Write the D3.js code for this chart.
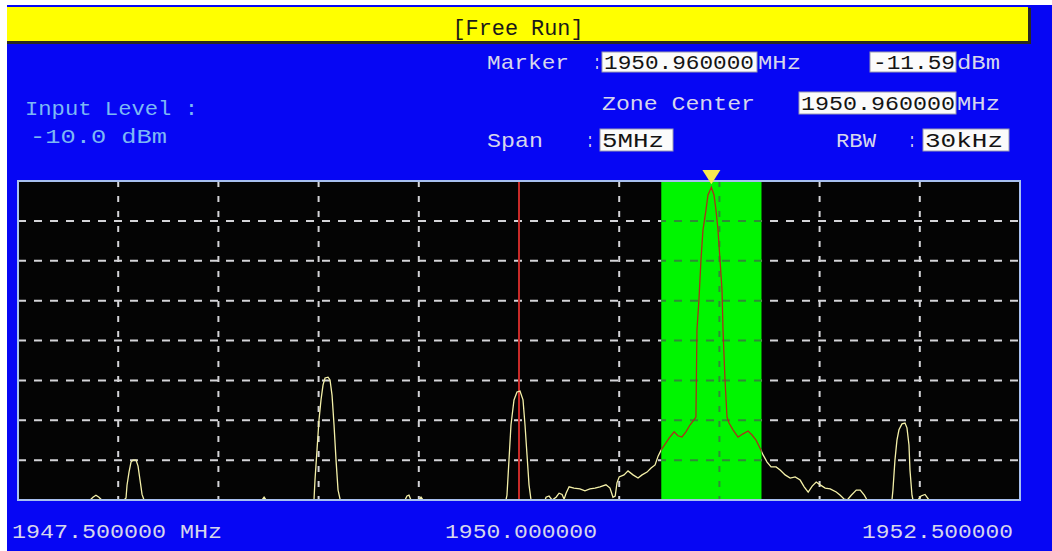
<!DOCTYPE html>
<html>
<head>
<meta charset="utf-8">
<script src="https://cdn.jsdelivr.net/npm/d3@7"></script>
<style>
  html, body { margin: 0; padding: 0; background: #ffffff; }
  svg { display: block; }
  text { font-family: "Liberation Mono", "DejaVu Sans Mono", monospace; }
</style>
</head>
<body>
<svg id="chart" width="1052" height="551"></svg>
<script>
// Analyzer settings
const startFreq = 1947.5;      // MHz
const stopFreq = 1952.5;       // MHz
const centerFreq = 1950.0;     // MHz
const refLevel = -10;          // dBm (top of screen)
const bottomLevel = -90;       // dBm (bottom of screen)
const markerFreq = 1950.96;    // MHz
const markerLevel = -11.59;    // dBm
const zoneCenter = 1950.96;    // MHz
const zoneWidth = 0.5;         // MHz
const freqGrid = [1948.0, 1948.5, 1949.0, 1949.5, 1950.0, 1950.5, 1951.0, 1951.5, 1952.0];
const levelGrid = [-20, -30, -40, -50, -60, -70, -80];
const freqTickLabels = ["1947.500000 MHz", "1950.000000", "1952.500000"];

// Trace: frequency (MHz) and level (dBm); levels below -90 dBm sit on the bottom edge
const traceFreq = [
  1947.500, 1947.860, 1947.874, 1947.889, 1947.904, 1947.918,
  1948.029, 1948.039, 1948.044, 1948.054, 1948.064, 1948.074, 1948.089, 1948.099, 1948.109, 1948.119, 1948.129,
  1948.718, 1948.728, 1948.738,
  1948.972, 1948.977, 1948.982, 1948.992, 1949.002, 1949.012, 1949.022, 1949.032, 1949.047, 1949.057, 1949.067, 1949.077, 1949.087, 1949.097, 1949.108,
  1949.431, 1949.441, 1949.451, 1949.461, 1949.501, 1949.511, 1949.521,
  1949.935, 1949.940, 1949.950, 1949.960, 1949.975, 1949.990, 1950.005, 1950.020, 1950.030, 1950.040, 1950.050, 1950.060,
  1950.130, 1950.135, 1950.150, 1950.165, 1950.185, 1950.200, 1950.215, 1950.225, 1950.235, 1950.250, 1950.274, 1950.304,
  1950.329, 1950.354, 1950.379, 1950.404, 1950.434, 1950.454, 1950.469, 1950.480, 1950.489, 1950.500, 1950.524, 1950.544,
  1950.569, 1950.594, 1950.614, 1950.639, 1950.659, 1950.679, 1950.694, 1950.709, 1950.729, 1950.749, 1950.774, 1950.793,
  1950.813, 1950.833, 1950.853, 1950.873, 1950.883, 1950.888, 1950.898, 1950.908, 1950.918, 1950.933, 1950.943, 1950.960,
  1950.973, 1950.983, 1950.993, 1951.003, 1951.013, 1951.018, 1951.028, 1951.038, 1951.048, 1951.068, 1951.093, 1951.118,
  1951.143, 1951.163, 1951.183, 1951.203, 1951.218, 1951.238, 1951.258, 1951.283, 1951.303, 1951.328, 1951.353, 1951.378,
  1951.403, 1951.423, 1951.443, 1951.463, 1951.483, 1951.503, 1951.528, 1951.553, 1951.583, 1951.603, 1951.623, 1951.638,
  1951.658, 1951.683, 1951.703, 1951.723, 1951.737,
  1951.861, 1951.866, 1951.876, 1951.886, 1951.896, 1951.911, 1951.926, 1951.936, 1951.946, 1951.951, 1951.961, 1951.966,
  1951.991, 1952.006, 1952.026, 1952.046, 1952.500
];
const traceLevel = [
  -93.0, -93.0, -89.3, -88.8, -89.3, -93.0,
  -93.0, -89.5, -86.3, -83.0, -80.5, -80.0, -80.0, -81.5, -85.0, -88.6, -93.0,
  -93.0, -89.3, -93.0,
  -93.0, -90.0, -85.0, -77.5, -69.9, -64.9, -61.2, -59.4, -59.2, -59.9, -63.7, -71.2, -80.0, -87.5, -93.0,
  -93.0, -89.0, -88.8, -93.0, -93.0, -89.3, -93.0,
  -93.0, -88.8, -80.0, -71.2, -64.9, -62.9, -62.7, -64.9, -71.2, -78.7, -86.2, -93.0,
  -93.0, -89.3, -89.0, -93.0, -89.3, -88.3, -88.6, -89.8, -88.3, -86.7, -87.0, -87.2,
  -87.7, -87.2, -87.0, -86.7, -86.2, -87.0, -89.3, -89.0, -85.7, -84.2, -83.7, -82.7,
  -83.7, -84.5, -83.7, -83.0, -82.0, -81.2, -79.0, -77.5, -76.0, -74.5, -72.9, -73.9,
  -74.2, -72.9, -71.2, -69.9, -69.2, -47.4, -39.8, -29.8, -22.3, -17.3, -13.5, -11.59,
  -13.5, -17.3, -22.3, -29.8, -37.3, -47.4, -59.9, -69.2, -70.7, -72.4, -74.2, -73.4,
  -72.7, -73.7, -75.0, -77.0, -78.7, -80.5, -81.7, -81.7, -82.5, -83.7, -84.5, -84.2,
  -85.0, -86.7, -88.0, -86.5, -85.5, -86.2, -87.0, -87.2, -88.0, -88.8, -89.8, -93.0,
  -88.8, -87.5, -87.5, -88.8, -93.0,
  -93.0, -87.5, -80.0, -75.0, -72.4, -70.9, -70.7, -71.9, -76.2, -82.5, -88.8, -93.0,
  -93.0, -89.0, -88.6, -93.0, -93.0
];

const svg = d3.select("#chart");
const plot = { left: 18, right: 1020, top: 181, bottom: 500 };

const x = d3.scaleLinear().domain([startFreq, stopFreq]).range([plot.left, plot.right]);
const y = d3.scaleLinear().domain([bottomLevel, refLevel]).range([plot.bottom, plot.top]).clamp(true);

// Screen background
svg.append("rect").attr("x", 7).attr("y", 5).attr("width", 1045).attr("height", 546).attr("fill", "#0606f4");

// Title bar with bevel
svg.append("rect").attr("x", 7).attr("y", 8).attr("width", 1024).attr("height", 36).attr("fill", "#2a2a20");
svg.append("rect").attr("x", 7).attr("y", 7).attr("width", 1021).attr("height", 34).attr("fill", "#ffff00");
svg.append("text").attr("x", 518).attr("y", 35).attr("text-anchor", "middle")
  .attr("font-size", 22).attr("fill", "#1a1a1a")
  .attr("textLength", 131).attr("lengthAdjust", "spacingAndGlyphs")
  .text("[Free Run]");

// Header text helpers
function label(txt, x0, base, width, color, size) {
  svg.append("text").attr("x", x0).attr("y", base)
    .attr("font-size", size || 21).attr("fill", color)
    .attr("textLength", width).attr("lengthAdjust", "spacingAndGlyphs")
    .text(txt);
}
function box(x0, y0, w, h) {
  svg.append("rect").attr("x", x0).attr("y", y0).attr("width", w).attr("height", h)
    .attr("fill", "#fbfbfb").attr("stroke", "#9a9ab0").attr("stroke-width", 1);
}
const hdr = "#d6d6ec";
const ink = "#141414";
const inputCol = "#7cb8f4";

label("Input Level :", 25, 115, 173, inputCol);
label("-10.0 dBm", 30, 143, 137, inputCol);

label("Marker", 487, 69, 82, hdr);
label(":", 593, 69, 8, hdr);
box(602, 52, 155, 20);
label("1950.960000", 604, 69, 150, ink);
label("MHz", 758, 69, 43, hdr);
box(870, 52, 86, 20);
label("-11.59", 873, 69, 82, ink);
label("dBm", 957, 69, 43, hdr);

label("Zone Center", 602, 110, 153, hdr);
box(799, 92, 157, 22);
label("1950.960000", 801, 110, 154, ink);
label("MHz", 957, 110, 43, hdr);

label("Span", 487, 147, 56, hdr);
label(":", 586, 147, 8, hdr);
box(600, 129, 73, 22);
label("5MHz", 602, 147, 62, ink);
label("RBW", 836, 147, 40, hdr);
label(":", 908, 147, 8, hdr);
box(923, 129, 86, 22);
label("30kHz", 925, 147, 78, ink);

// Plot area
svg.append("rect").attr("x", plot.left).attr("y", plot.top)
  .attr("width", plot.right - plot.left).attr("height", plot.bottom - plot.top)
  .attr("fill", "#040404");

// Measurement zone
const zoneX0 = x(zoneCenter - zoneWidth / 2);
const zoneX1 = x(zoneCenter + zoneWidth / 2);
svg.append("rect").attr("x", zoneX0).attr("y", plot.top)
  .attr("width", zoneX1 - zoneX0).attr("height", plot.bottom - plot.top)
  .attr("fill", "#00f500");

const defs = svg.append("defs");
defs.append("clipPath").attr("id", "clip-zone").append("rect")
  .attr("x", zoneX0).attr("y", plot.top - 2).attr("width", zoneX1 - zoneX0).attr("height", plot.bottom - plot.top + 4);
const outside = defs.append("clipPath").attr("id", "clip-out");
outside.append("rect").attr("x", 0).attr("y", 0).attr("width", zoneX0).attr("height", 551);
outside.append("rect").attr("x", zoneX1).attr("y", 0).attr("width", 1052 - zoneX1).attr("height", 551);

// Graticule: light outside the zone, dark green inside it
function graticule(g, color) {
  g.selectAll("line.v").data(freqGrid).join("line").attr("class", "v")
    .attr("x1", d => x(d)).attr("x2", d => x(d))
    .attr("y1", plot.top).attr("y2", plot.bottom)
    .attr("stroke", color).attr("stroke-width", 2).attr("stroke-dasharray", "6,9");
  g.selectAll("line.h").data(levelGrid).join("line").attr("class", "h")
    .attr("x1", plot.left).attr("x2", plot.right)
    .attr("y1", d => y(d)).attr("y2", d => y(d))
    .attr("stroke", color).attr("stroke-width", 2).attr("stroke-dasharray", "8,8");
}
graticule(svg.append("g").attr("clip-path", "url(#clip-out)"), "#d4d4d8");
graticule(svg.append("g").attr("clip-path", "url(#clip-zone)"), "#2f8c36");

// Center frequency line
svg.append("line").attr("x1", x(centerFreq)).attr("x2", x(centerFreq))
  .attr("y1", plot.top).attr("y2", plot.bottom)
  .attr("stroke", "#c82a28").attr("stroke-width", 2);

// Spectrum trace
const trace = traceFreq.map((f, i) => ({ f, v: traceLevel[i] }));
const line = d3.line().x(d => x(d.f)).y(d => y(d.v));
svg.append("path").datum(trace).attr("d", line)
  .attr("clip-path", "url(#clip-out)")
  .attr("fill", "none").attr("stroke", "#f4f0a8").attr("stroke-width", 1.3);
svg.append("path").datum(trace).attr("d", line)
  .attr("clip-path", "url(#clip-zone)")
  .attr("fill", "none").attr("stroke", "#a8321a").attr("stroke-width", 1.3);

// Plot frame
svg.append("rect").attr("x", plot.left).attr("y", plot.top)
  .attr("width", plot.right - plot.left).attr("height", plot.bottom - plot.top)
  .attr("fill", "none").attr("stroke", "#a8c0f0").attr("stroke-width", 2);

// Marker
const mx = x(markerFreq);
svg.append("path")
  .attr("d", `M${mx - 9},${170} L${mx + 9},${170} L${mx},${y(markerLevel) - 3} Z`)
  .attr("fill", "#f8e850");

// Frequency labels
const tickX = [startFreq, centerFreq, stopFreq];
label(freqTickLabels[0], x(tickX[0]) - 6, 538, 210, hdr);
svg.append("text").attr("x", x(tickX[1]) + 2).attr("y", 538).attr("text-anchor", "middle")
  .attr("font-size", 21).attr("fill", hdr).attr("textLength", 152).attr("lengthAdjust", "spacingAndGlyphs")
  .text(freqTickLabels[1]);
svg.append("text").attr("x", x(tickX[2]) - 7).attr("y", 538).attr("text-anchor", "end")
  .attr("font-size", 21).attr("fill", hdr).attr("textLength", 151).attr("lengthAdjust", "spacingAndGlyphs")
  .text(freqTickLabels[2]);
</script>
</body>
</html>
